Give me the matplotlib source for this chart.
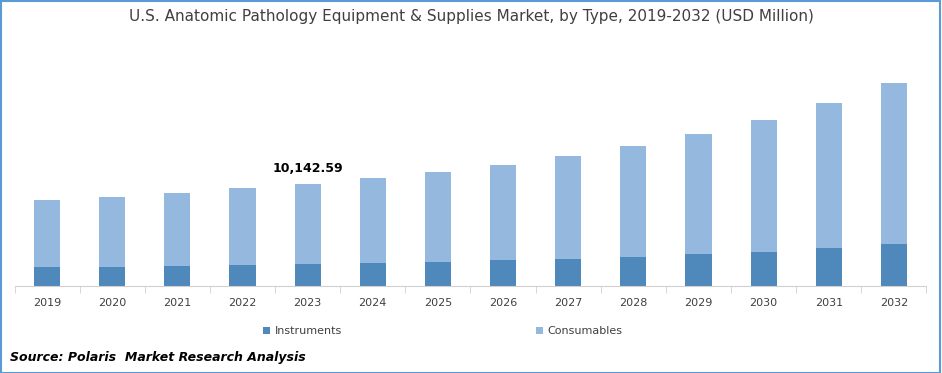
import numpy as np
import matplotlib.pyplot as plt
from matplotlib.patches import Rectangle

years = ['2019', '2020', '2021', '2022', '2023', '2024', '2025', '2026',
         '2027', '2028', '2029', '2030', '2031', '2032']
instruments = [1890, 1900, 1990, 2090, 2190, 2290, 2390, 2580,
               2680, 2880, 3180, 3380, 3780, 4170]
totals = [8550, 8850, 9240, 9740, 10142.59, 10740, 11330, 12030,
          12920, 13920, 15110, 16500, 18190, 20180]
consumables = [t - i for t, i in zip(totals, instruments)]

c_inst = '#4f88bb'
c_cons = '#95b8df'

fig = plt.figure(figsize=(9.42, 3.73), dpi=100)
ax = fig.add_axes([14.5/942, 1-286/373, 912/942, 221/373])

x = np.arange(len(years))
ax.bar(x, instruments, width=0.4, color=c_inst, label='Instruments')
ax.bar(x, consumables, width=0.4, bottom=instruments, color=c_cons, label='Consumables')

ax.set_xlim(-0.5, len(years) - 0.5)
ax.set_ylim(0, 22000)
ax.set_yticks([])
for s in ['top', 'right', 'left']:
    ax.spines[s].set_visible(False)
ax.spines['bottom'].set_color('#d0d0d0')
ax.set_xticks(x)
ax.set_xticklabels(years, fontsize=8, color='#404040')
ax.tick_params(axis='x', length=0, pad=9)
ax.set_xticks(np.arange(-0.5, len(years)), minor=True)
ax.tick_params(axis='x', which='minor', length=5, color='#d0d0d0')

ax.text(4, totals[4] + 900, '10,142.59', ha='center', va='bottom',
        fontsize=9, fontweight='bold', color='black')

fig.text(0.5, 1-17/373, 'U.S. Anatomic Pathology Equipment & Supplies Market, by Type, 2019-2032 (USD Million)',
         ha='center', va='center', fontsize=11, color='#404040')

fig.legend(handles=ax.patches[:1] + ax.patches[len(years):len(years)+1],
           labels=['Instruments', 'Consumables'],
           loc='center', bbox_to_anchor=(0.47, 1-331/373), ncol=2, frameon=False,
           fontsize=8, handlelength=0.6, handleheight=0.6, columnspacing=17.5,
           handletextpad=0.4, labelcolor='#404040')

fig.text(10/942, 1-357/373, 'Source: Polaris  Market Research Analysis',
         ha='left', va='center', fontsize=9, fontweight='bold', style='italic')

fig.patches.append(Rectangle((0.001, 0.001), 0.997, 0.997, transform=fig.transFigure,
                             fill=False, edgecolor='#5b9bd5', linewidth=1.5))

fig.savefig('out.png', dpi=100)
